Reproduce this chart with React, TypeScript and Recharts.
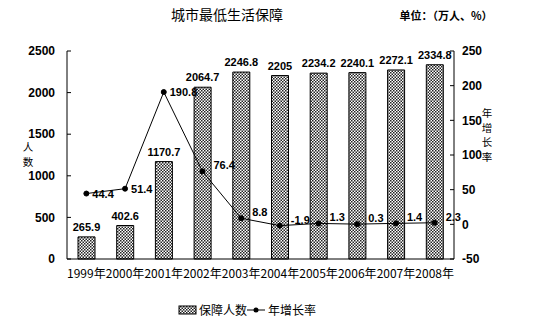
import React from 'react';
import { ComposedChart, Bar, Line, XAxis, YAxis, LabelList } from 'recharts';

const years = ['1999年', '2000年', '2001年', '2002年', '2003年', '2004年', '2005年', '2006年', '2007年', '2008年'];
const people = [265.9, 402.6, 1170.7, 2064.7, 2246.8, 2205, 2234.2, 2240.1, 2272.1, 2334.8];
const growth = [44.4, 51.4, 190.8, 76.4, 8.8, -1.9, 1.3, 0.3, 1.4, 2.3];
const leftTicks = [0, 500, 1000, 1500, 2000, 2500];
const rightTicks = [-50, 0, 50, 100, 150, 200, 250];

const data = years.map((y, i) => ({ year: y, people: people[i], growth: growth[i] }));

const numFont = 'Liberation Sans, Arial, sans-serif';
const cjkFont = '"Noto Sans CJK SC", sans-serif';

const BarLabel = (props: any) => {
  const { x, y, width, value } = props;
  return (
    <text x={x + width / 2} y={y - 6} textAnchor="middle" fontFamily={numFont} fontWeight="bold" fontSize={11} fill="#000">
      {value}
    </text>
  );
};

const LineLabel = (props: any) => {
  const { x, y, value, index } = props;
  const dx = index < 3 ? 6 : 11;
  const dy = index < 3 ? 4 : -2;
  return (
    <text x={x + dx} y={y + dy} textAnchor="start" fontFamily={numFont} fontWeight="bold" fontSize={11} fill="#000">
      {value}
    </text>
  );
};

export default function App() {
  return (
    <div style={{ position: 'relative', marginLeft: -8, marginTop: -8, width: 539, height: 332, background: '#fff' }}>
      <ComposedChart
        width={539}
        height={332}
        data={data}
        margin={{ top: 51, right: 45, bottom: 0, left: 27 }}
        barCategoryGap="28%"
      >
        <defs>
          <pattern id="chk" width="3" height="3" patternUnits="userSpaceOnUse">
            <rect width="3" height="3" fill="#fff" />
            <rect x="0" y="0" width="1.5" height="1.5" fill="#222" />
            <rect x="1.5" y="1.5" width="1.5" height="1.5" fill="#222" />
          </pattern>
        </defs>
        <XAxis
          dataKey="year"
          interval={0}
          height={73}
          axisLine={{ stroke: '#000' }}
          tickLine={false}
          tickMargin={4}
          tick={{ fontFamily: cjkFont, fontSize: 12, fill: '#000' }}
        />
        <XAxis xAxisId="top" dataKey="year" orientation="top" height={0} tick={false} tickLine={false} axisLine={{ stroke: '#000' }} />
        <YAxis
          yAxisId="left"
          width={40}
          domain={[0, 2500]}
          ticks={leftTicks}
          interval={0}
          axisLine={{ stroke: '#000' }}
          tickLine={{ stroke: '#000' }}
          tickSize={-4}
          tickMargin={16}
          tick={{ fontFamily: numFont, fontWeight: 'bold', fontSize: 12, fill: '#000' }}
        />
        <YAxis
          yAxisId="right"
          orientation="right"
          width={40}
          domain={[-50, 250]}
          ticks={rightTicks}
          interval={0}
          axisLine={{ stroke: '#000' }}
          tickLine={{ stroke: '#000' }}
          tickSize={-4}
          tickMargin={12}
          tick={{ fontFamily: numFont, fontWeight: 'bold', fontSize: 12, fill: '#000', textAnchor: 'start' }}
        />
        <Bar yAxisId="left" dataKey="people" fill="url(#chk)" stroke="#000" strokeWidth={1} barSize={17} isAnimationActive={false}>
          <LabelList dataKey="people" content={BarLabel} />
        </Bar>
        <Line
          yAxisId="right"
          dataKey="growth"
          stroke="#000"
          strokeWidth={1}
          dot={{ r: 2.5, fill: '#000', stroke: '#000' }}
          isAnimationActive={false}
        >
          <LabelList dataKey="growth" content={LineLabel} />
        </Line>
        <text x={227} y={20} textAnchor="middle" fontFamily={cjkFont} fontSize={14} fill="#000">城市最低生活保障</text>
        <text x={446} y={20} textAnchor="middle" fontFamily={cjkFont} fontWeight="bold" fontSize={11} fill="#000">单位：（万人、%）</text>
        <text x={28} y={151} textAnchor="middle" fontFamily={cjkFont} fontSize={10.5} fill="#000">人</text>
        <text x={28} y={166} textAnchor="middle" fontFamily={cjkFont} fontSize={10.5} fill="#000">数</text>
        {['年', '增', '长', '率'].map((c, i) => (
          <text key={c} x={487} y={117 + i * 14.5} textAnchor="middle" fontFamily={cjkFont} fontSize={10.5} fill="#000">{c}</text>
        ))}
        <g>
          <rect x={179} y={306} width={17} height={8} fill="url(#chk)" stroke="#000" strokeWidth={1} />
          <text x={199} y={315} fontFamily={cjkFont} fontSize={12} fill="#000">保障人数</text>
          <line x1={247} y1={310} x2={265} y2={310} stroke="#000" strokeWidth={1} />
          <circle cx={256} cy={310} r={2.5} fill="#000" />
          <text x={268} y={315} fontFamily={cjkFont} fontSize={12} fill="#000">年增长率</text>
        </g>
      </ComposedChart>
    </div>
  );
}
